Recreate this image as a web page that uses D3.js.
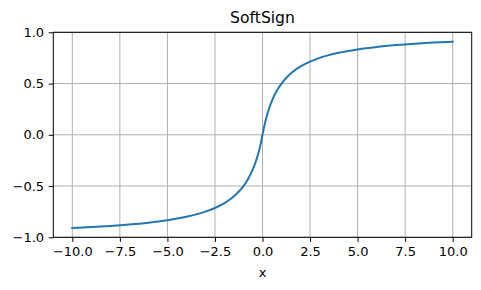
<!DOCTYPE html>
<html>
<head>
<meta charset="utf-8">
<script src="https://cdn.jsdelivr.net/npm/d3@7"></script>
<style>
  body { margin: 0; background: #fff; }
  svg { display: block; font-family: "DejaVu Sans", sans-serif; }
</style>
</head>
<body>
<svg id="chart" width="481" height="290"></svg>
<script>
'use strict';

// values
const xValues = [-10, -9, -8, -7, -6, -5, -4, -3, -2.5, -2, -1.5, -1, -0.75, -0.5, -0.35, -0.2, -0.1,
  0, 0.1, 0.2, 0.35, 0.5, 0.75, 1, 1.5, 2, 2.5, 3, 4, 5, 6, 7, 8, 9, 10];
const yValues = [-0.909, -0.900, -0.889, -0.875, -0.857, -0.833, -0.800, -0.750, -0.714, -0.667, -0.600,
  -0.500, -0.429, -0.333, -0.259, -0.167, -0.091,
  0, 0.091, 0.167, 0.259, 0.333, 0.429, 0.500, 0.600, 0.667, 0.714, 0.750, 0.800, 0.833, 0.857,
  0.875, 0.889, 0.900, 0.909];
const xTicks = [-10, -7.5, -5, -2.5, 0, 2.5, 5, 7.5, 10];
const yTicks = [-1, -0.5, 0, 0.5, 1];

const svg = d3.select('#chart');
const plot = { left: 53.3, right: 471.7, top: 32.3, bottom: 237.3 };
const tickLen = 4.6;
const pad = 4.6;

const x = d3.scaleLinear().domain([-11, 11]).range([plot.left, plot.right]);
const y = d3.scaleLinear().domain([-1, 1]).range([plot.bottom, plot.top]);

const fmt = d => d3.format('.1f')(d).replace('-', '\u2212');

// grid
svg.append('g').selectAll('line').data(xTicks).enter().append('line')
  .attr('x1', d => x(d)).attr('x2', d => x(d))
  .attr('y1', plot.top).attr('y2', plot.bottom)
  .attr('stroke', '#b0b0b0').attr('stroke-width', 1);
svg.append('g').selectAll('line').data(yTicks).enter().append('line')
  .attr('x1', plot.left).attr('x2', plot.right)
  .attr('y1', d => y(d)).attr('y2', d => y(d))
  .attr('stroke', '#b0b0b0').attr('stroke-width', 1);

// curve
const points = xValues.map((v, i) => [v, yValues[i]]);
svg.append('path')
  .datum(points)
  .attr('fill', 'none')
  .attr('stroke', '#1f77b4')
  .attr('stroke-width', 2)
  .attr('stroke-linecap', 'square')
  .attr('d', d3.line().x(d => x(d[0])).y(d => y(d[1])).curve(d3.curveMonotoneX));

// frame
svg.append('rect')
  .attr('x', plot.left).attr('y', plot.top)
  .attr('width', plot.right - plot.left).attr('height', plot.bottom - plot.top)
  .attr('fill', 'none').attr('stroke', '#000').attr('stroke-width', 1);

// x axis
const xAxis = svg.append('g').attr('transform', `translate(0,${plot.bottom})`)
  .call(d3.axisBottom(x).tickValues(xTicks).tickFormat(fmt).tickSize(tickLen).tickPadding(pad));
const yAxis = svg.append('g').attr('transform', `translate(${plot.left},0)`)
  .call(d3.axisLeft(y).tickValues(yTicks).tickFormat(fmt).tickSize(tickLen).tickPadding(pad));

[xAxis, yAxis].forEach(g => {
  g.select('.domain').remove();
  g.selectAll('.tick line').attr('stroke', '#000').attr('stroke-width', 1);
  g.selectAll('.tick text')
    .attr('fill', '#000')
    .style('font-family', '"DejaVu Sans", sans-serif')
    .style('font-size', '13px');
});
xAxis.attr('font-size', null);
yAxis.attr('font-size', null);

// titles
svg.append('text')
  .attr('x', (plot.left + plot.right) / 2).attr('y', 22.5)
  .attr('text-anchor', 'middle')
  .style('font-size', '15.6px')
  .text('SoftSign');

svg.append('text')
  .attr('x', (plot.left + plot.right) / 2).attr('y', 277)
  .attr('text-anchor', 'middle')
  .style('font-size', '13px')
  .text('x');
</script>
</body>
</html>
